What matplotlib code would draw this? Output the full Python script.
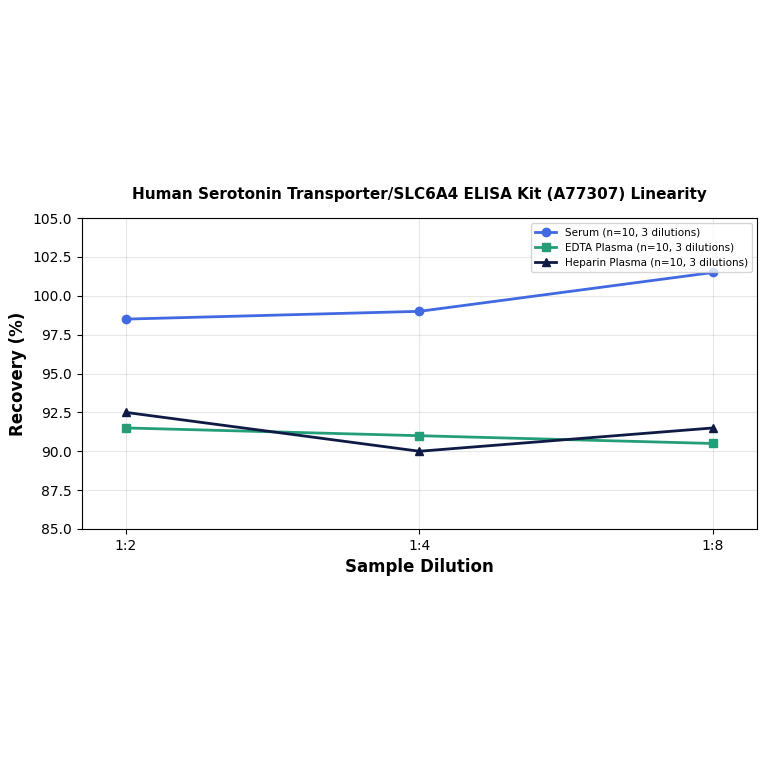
import matplotlib
matplotlib.use('Agg')
from matplotlib import pyplot as plt

# data
dilutions = ['1:2', '1:4', '1:8']
serum = [98.5, 99.0, 101.5]
edta = [91.5, 91.0, 90.5]
heparin = [92.5, 90.0, 91.5]

fig = plt.figure(figsize=(7.64, 7.64), dpi=100)
ax = fig.add_axes([0.107, 0.3076, 0.884, 0.407])

x = range(len(dilutions))
ax.plot(x, serum, color='#4169E1', marker='o', linewidth=2, markersize=6,
        label='Serum (n=10, 3 dilutions)')
ax.plot(x, edta, color='#249E78', marker='s', linewidth=2, markersize=6,
        label='EDTA Plasma (n=10, 3 dilutions)')
ax.plot(x, heparin, color='#0F1B45', marker='^', linewidth=2, markersize=6,
        label='Heparin Plasma (n=10, 3 dilutions)')

ax.set_xticks(list(x))
ax.set_xticklabels(dilutions)
ax.set_xlim(-0.15, 2.15)
ax.set_ylim(85, 105)
ax.set_yticks([85 + 2.5 * i for i in range(9)])
ax.tick_params(labelsize=10)
ax.grid(True, alpha=0.3)

ax.set_xlabel('Sample Dilution', fontsize=12, fontweight='bold')
ax.set_ylabel('Recovery (%)', fontsize=12, fontweight='bold')
ax.set_title('Human Serotonin Transporter/SLC6A4 ELISA Kit (A77307) Linearity',
             fontsize=11, fontweight='bold', pad=14)
ax.legend(loc='upper right', fontsize=7.5)

fig.savefig('out.png', dpi=100)
